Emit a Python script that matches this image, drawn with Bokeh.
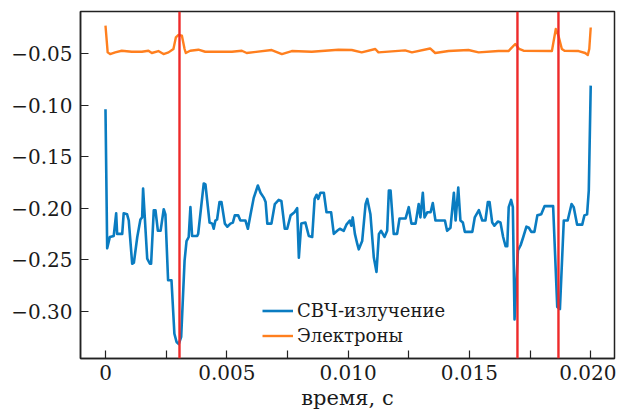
from bokeh.plotting import figure
from bokeh.models import Range1d, FixedTicker, Span, Legend, LegendItem
from bokeh.embed import file_html
from bokeh.resources import INLINE

# --- data -------------------------------------------------------------
t_mw = [0, 0.00007, 0.00018, 0.00034, 0.00044, 0.00048, 0.00069, 0.00075, 0.00089, 0.00096,
        0.00110, 0.00117, 0.00131, 0.00144, 0.00151, 0.00155, 0.00162, 0.00172, 0.00183, 0.00188,
        0.00199, 0.00206, 0.00216, 0.00227, 0.00240, 0.00247, 0.00258, 0.00272, 0.00284, 0.00293,
        0.00302, 0.00312, 0.00326, 0.00334, 0.00343, 0.00350, 0.00357, 0.00378, 0.00382, 0.00405,
        0.00412, 0.00429, 0.00440, 0.00446, 0.00453, 0.00460, 0.00470, 0.00478, 0.00492, 0.00502,
        0.00515, 0.00525, 0.00533, 0.00547, 0.00556, 0.00577, 0.00587, 0.00598, 0.00611, 0.00628,
        0.00639, 0.00653, 0.00660, 0.00667, 0.00684, 0.00698, 0.00714, 0.00725, 0.00739, 0.00749,
        0.00763, 0.00779, 0.00790, 0.00797, 0.00807, 0.00824, 0.00838, 0.00852, 0.00862, 0.00870,
        0.00877, 0.00886, 0.00900, 0.00911, 0.00930, 0.00941, 0.00955, 0.00966, 0.00982, 0.00993,
        0.01007, 0.01013, 0.01019, 0.01028, 0.01038, 0.01044, 0.01058, 0.01072, 0.01079, 0.01092,
        0.01106, 0.01117, 0.01127, 0.01136, 0.01150, 0.01161, 0.01168, 0.01175, 0.01188, 0.01202,
        0.01212, 0.01237, 0.01250, 0.01261, 0.01278, 0.01291, 0.01298, 0.01308, 0.01315, 0.01326,
        0.01340, 0.01349, 0.01360, 0.01399, 0.01408, 0.01422, 0.01436, 0.01443, 0.01454, 0.01463,
        0.01473, 0.01481, 0.01512, 0.01522, 0.01539, 0.01553, 0.01566, 0.01576, 0.01583, 0.01594,
        0.01603, 0.01617, 0.01628, 0.01639, 0.01649, 0.01656, 0.01662, 0.01672, 0.01679, 0.01686,
        0.01700, 0.01711, 0.01722, 0.01735, 0.01745, 0.01755, 0.01768, 0.01780, 0.01796, 0.01810,
        0.01845, 0.01862, 0.01873, 0.01889, 0.01905, 0.01921, 0.01930, 0.01944, 0.01965, 0.01974,
        0.01985, 0.01992, 0.02000]
v_mw = [-0.104, -0.239, -0.228, -0.227, -0.205, -0.225, -0.225, -0.205, -0.206, -0.212,
        -0.254, -0.253, -0.228, -0.211, -0.209, -0.181, -0.209, -0.249, -0.254, -0.254,
        -0.202, -0.202, -0.222, -0.222, -0.201, -0.206, -0.270, -0.270, -0.322, -0.330,
        -0.332, -0.325, -0.251, -0.232, -0.228, -0.199, -0.227, -0.227, -0.225, -0.176,
        -0.177, -0.214, -0.215, -0.220, -0.212, -0.211, -0.194, -0.194, -0.215, -0.218,
        -0.215, -0.214, -0.207, -0.207, -0.212, -0.212, -0.220, -0.206, -0.190, -0.178,
        -0.185, -0.190, -0.194, -0.215, -0.215, -0.196, -0.192, -0.193, -0.220, -0.220,
        -0.207, -0.204, -0.200, -0.248, -0.215, -0.214, -0.227, -0.228, -0.191, -0.187,
        -0.191, -0.185, -0.185, -0.204, -0.204, -0.225, -0.222, -0.220, -0.222, -0.216,
        -0.212, -0.217, -0.209, -0.225, -0.235, -0.240, -0.232, -0.196, -0.191, -0.206,
        -0.248, -0.262, -0.225, -0.222, -0.228, -0.222, -0.183, -0.183, -0.225, -0.225,
        -0.210, -0.210, -0.199, -0.215, -0.215, -0.196, -0.209, -0.185, -0.209, -0.204,
        -0.204, -0.195, -0.212, -0.212, -0.222, -0.219, -0.185, -0.212, -0.180, -0.212,
        -0.214, -0.223, -0.223, -0.209, -0.202, -0.212, -0.212, -0.194, -0.194, -0.214,
        -0.217, -0.213, -0.214, -0.228, -0.237, -0.237, -0.199, -0.192, -0.199, -0.308,
        -0.241, -0.236, -0.228, -0.218, -0.219, -0.223, -0.223, -0.207, -0.206, -0.198,
        -0.198, -0.296, -0.298, -0.212, -0.212, -0.196, -0.199, -0.216, -0.216, -0.207,
        -0.206, -0.183, -0.081]

t_el = [0, 0.00009, 0.00019, 0.00040, 0.00067, 0.00108, 0.00150, 0.00177, 0.00191, 0.00218,
        0.00239, 0.00260, 0.00280, 0.00290, 0.00301, 0.00315, 0.00326, 0.00331, 0.00349, 0.00383,
        0.00411, 0.00521, 0.00562, 0.00582, 0.00685, 0.00727, 0.00768, 0.00850, 0.00960, 0.01015,
        0.01056, 0.01112, 0.01125, 0.01235, 0.01263, 0.01338, 0.01359, 0.01414, 0.01496, 0.01538,
        0.01620, 0.01661, 0.01689, 0.01705, 0.01723, 0.01840, 0.01856, 0.01867, 0.01881, 0.01892,
        0.01950, 0.01977, 0.01988, 0.01994, 0.02000]
v_el = [-0.0228, -0.0487, -0.0503, -0.0487, -0.0471, -0.0481, -0.0481, -0.0471, -0.0493, -0.0474,
        -0.0503, -0.0487, -0.0454, -0.0342, -0.0318, -0.0325, -0.0454, -0.0493, -0.0471, -0.0461,
        -0.0481, -0.0481, -0.0471, -0.0493, -0.0464, -0.0503, -0.0474, -0.0481, -0.0461, -0.0464,
        -0.0487, -0.0454, -0.0487, -0.0468, -0.0487, -0.0449, -0.0493, -0.0474, -0.0464, -0.0487,
        -0.0474, -0.0474, -0.0406, -0.0454, -0.0471, -0.0474, -0.0260, -0.0325, -0.0454, -0.0471,
        -0.0474, -0.0493, -0.0513, -0.0454, -0.0245]

markers = [0.00305, 0.01698, 0.01867]

x_ticks = [0, 0.005, 0.010, 0.015, 0.020]
x_minor = [0.0025, 0.0075, 0.0125, 0.0175]
x_labels = ["0", "0.005", "0.010", "0.015", "0.020"]
y_ticks = [-0.30, -0.25, -0.20, -0.15, -0.10, -0.05]
y_labels = ["\u22120.30", "\u22120.25", "\u22120.20", "\u22120.15", "\u22120.10", "\u22120.05"]

series_names = ["СВЧ-излучение", "Электроны"]
x_title = "время, с"

# --- figure -----------------------------------------------------------
FONT = "DejaVu Serif"
p = figure(width=616, height=415, output_backend="svg", toolbar_location=None,
           x_range=Range1d(-0.00103, 0.02098), y_range=Range1d(-0.346, -0.009),
           min_border_left=80, min_border_right=2, min_border_top=11, min_border_bottom=57)
p.background_fill_color = "white"
p.border_fill_color = "white"
p.grid.visible = False
p.outline_line_color = "#222222"
p.outline_line_width = 1.5

r_mw = p.line(t_mw, v_mw, line_color="#0a7cc1", line_width=2.6, line_join="round")
r_el = p.line(t_el, v_el, line_color="#ff7f1e", line_width=2.4, line_join="round")

for m in markers:
    p.add_layout(Span(location=m, dimension="height", line_color="#ee2a2a", line_width=2.4))

xa = p.xaxis[0]
xa.ticker = FixedTicker(ticks=x_ticks, minor_ticks=x_minor)
xa.major_label_overrides = dict(zip(x_ticks, x_labels))
ya = p.yaxis[0]
ya.ticker = FixedTicker(ticks=y_ticks, minor_ticks=[])
ya.major_label_overrides = dict(zip(y_ticks, y_labels))

for ax in (xa, ya):
    ax.major_tick_in = 8
    ax.major_tick_out = 0
    ax.minor_tick_in = 8
    ax.minor_tick_out = 0
    ax.axis_line_color = "#222222"
    ax.axis_line_width = 1.5
    ax.major_tick_line_color = "#222222"
    ax.minor_tick_line_color = "#222222"
    ax.major_tick_line_width = 1.2
    ax.minor_tick_line_width = 1.2
    ax.major_label_text_font = FONT
    ax.major_label_text_font_size = "20px"
    ax.major_label_text_color = "#1a1a1a"

xa.major_label_standoff = 6
ya.major_label_standoff = 8
xa.axis_label = x_title
xa.axis_label_text_font = FONT
xa.axis_label_text_font_size = "21px"
xa.axis_label_text_font_style = "normal"
xa.axis_label_text_color = "#1a1a1a"
xa.axis_label_standoff = 3

legend = Legend(items=[LegendItem(label=series_names[0], renderers=[r_mw]),
                       LegendItem(label=series_names[1], renderers=[r_el])],
                location=(182, 10), orientation="vertical")
legend.background_fill_alpha = 0
legend.border_line_alpha = 0
legend.label_text_font = FONT
legend.label_text_font_size = "18px"
legend.label_text_color = "#1a1a1a"
legend.glyph_width = 31
legend.glyph_height = 25
legend.label_height = 25
legend.label_standoff = 4
legend.padding = 0
legend.spacing = 0
legend.margin = 0
p.add_layout(legend, "center")

open("out.html", "w").write(file_html(p, INLINE))
